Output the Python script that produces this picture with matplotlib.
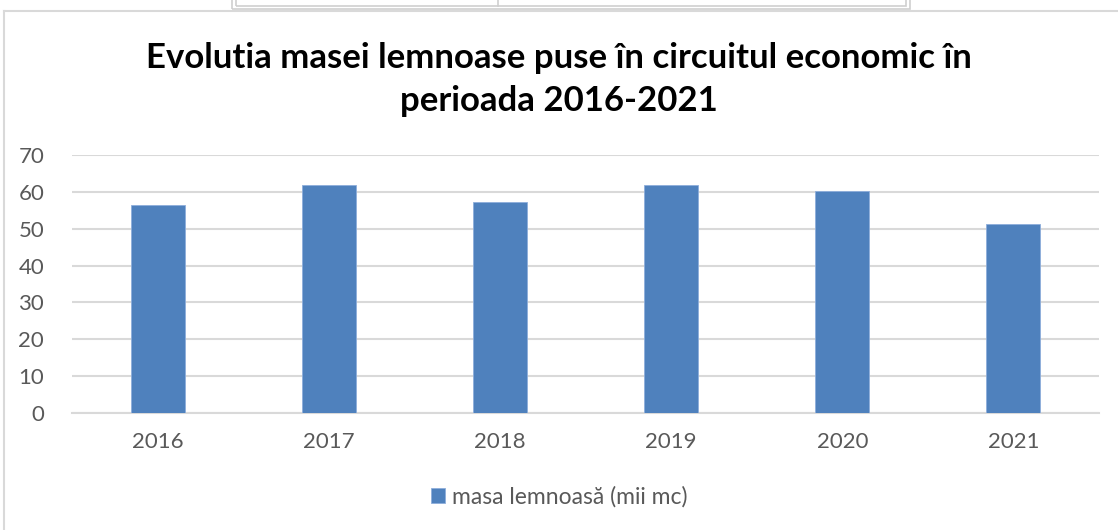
import matplotlib.pyplot as plt
from matplotlib.lines import Line2D
from matplotlib.patches import Rectangle

years = ["2016", "2017", "2018", "2019", "2020", "2021"]
masa = [56.4, 61.9, 57.2, 61.8, 60.3, 51.2]
yticks = [0, 10, 20, 30, 40, 50, 60, 70]

plt.rcParams['font.family'] = ['Lato', 'DejaVu Sans']

fig = plt.figure(figsize=(11.18, 5.30), dpi=100)
W, H = 1118, 530

# chart border and table remnants at the top
fig.add_artist(Line2D([4 / W, 4 / W], [0, 1 - 11 / H], color="#d9d9d9", lw=1.5))
fig.add_artist(Line2D([4 / W, 1], [1 - 11 / H, 1 - 11 / H], color="#d9d9d9", lw=1.5))
fig.add_artist(Rectangle((232 / W, 1 - 9 / H), (910 - 232) / W, 12 / H,
                         facecolor="none", edgecolor="#cfcfcf", lw=1.2))
fig.add_artist(Rectangle((236 / W, 1 - 6 / H), (906 - 236) / W, 12 / H,
                         facecolor="none", edgecolor="#cfcfcf", lw=1.2))
fig.add_artist(Line2D([498 / W, 498 / W], [1 - 6 / H, 1], color="#cfcfcf", lw=1.2))

ax = fig.add_axes([72 / W, 1 - 413 / H, (1099 - 72) / W, (413 - 155) / H])
x = range(len(years))
ax.bar(x, masa, width=0.316, color="#4f81bd", edgecolor="#8eaedb", lw=0.6,
       label="masa lemnoasă (mii mc)", zorder=3)
ax.set_xlim(-0.5, len(years) - 0.5)
ax.set_ylim(0, 70)
ax.set_yticks(yticks)
ax.set_xticks(list(x))
ax.set_xticklabels(years)
ax.yaxis.grid(True, color="#d9d9d9", lw=1.5, zorder=0)
for s in ["top", "right", "left"]:
    ax.spines[s].set_visible(False)
ax.spines["bottom"].set_color("#d9d9d9")
ax.spines["bottom"].set_linewidth(1.5)
ax.tick_params(axis="both", length=0, labelsize=16, colors="#595959")
ax.tick_params(axis="y", pad=20)
ax.tick_params(axis="x", pad=14)

fig.text(0.5, 1 - 58 / H, "Evolutia masei lemnoase puse în circuitul economic în",
         ha="center", va="center", fontsize=25, fontweight="bold", color="#000000")
fig.text(0.5, 1 - 101 / H, "perioada 2016-2021",
         ha="center", va="center", fontsize=25, fontweight="bold", color="#000000")

fig.legend(loc="center", bbox_to_anchor=(0.5, 1 - 497 / H), frameon=False,
           fontsize=16.5, labelcolor="#595959", handlelength=0.6, handleheight=0.6,
           handletextpad=0.3)

plt.savefig("out.png", dpi=100)
